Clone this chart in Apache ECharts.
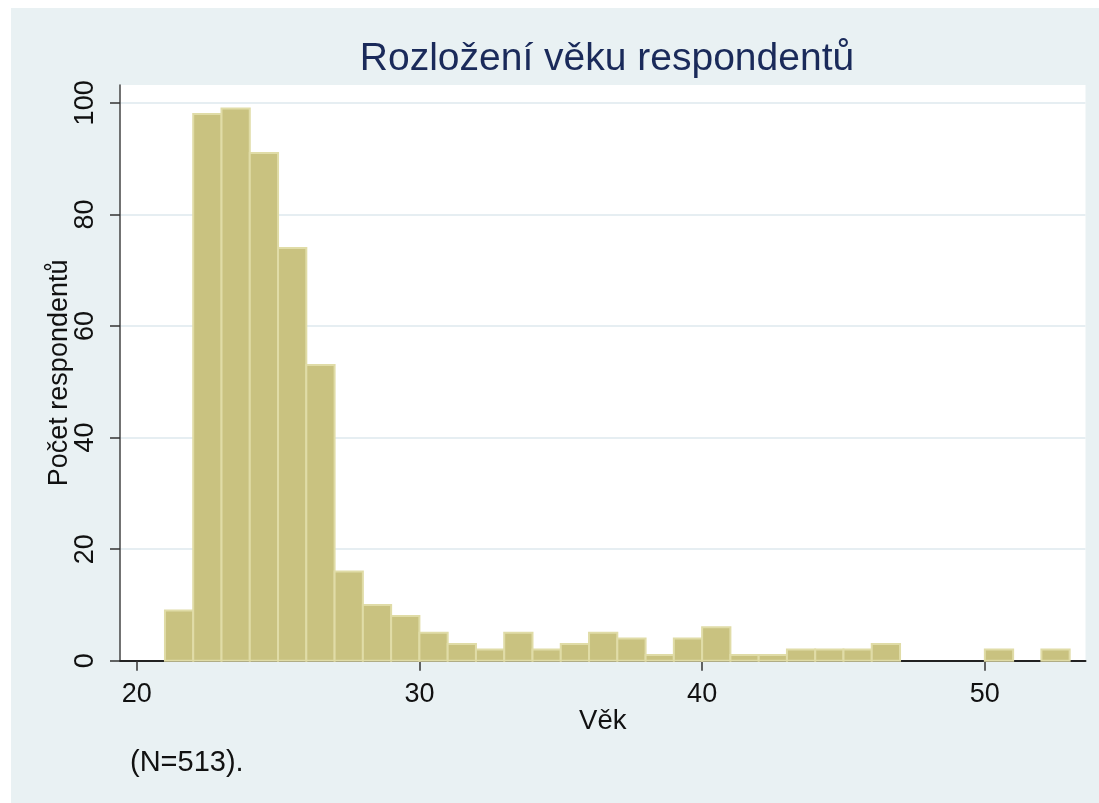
<!DOCTYPE html>
<html>
<head>
<meta charset="utf-8">
<script src="https://cdn.jsdelivr.net/npm/echarts@6/dist/echarts.min.js"></script>
<style>
  html, body { margin: 0; padding: 0; background: #fff; }
  #chart { width: 1099px; height: 803px; }
</style>
</head>
<body>
<div id="chart"></div>
<script>
// bin start (age, years) and respondent count per 1-year bin
const binStarts = [21, 22, 23, 24, 25, 26, 27, 28, 29, 30, 31, 32, 33, 34, 35, 36,
  37, 38, 39, 40, 41, 42, 43, 44, 45, 46, 47, 48, 49, 50, 51, 52]
const counts = [9, 98, 99, 91, 74, 53, 16, 10, 8, 5, 3, 2, 5, 2, 3, 5,
  4, 1, 4, 6, 1, 1, 2, 2, 2, 3, 0, 0, 0, 2, 0, 2]
const binWidth = 1

const xTicks = [20, 30, 40, 50]
const yTicks = [0, 20, 40, 60, 80, 100]

const chart = echarts.init(document.getElementById('chart'))

const fontFamily = '"Liberation Sans", Arial, sans-serif'

const option = {
  backgroundColor: '#ffffff',
  animation: false,

  graphic: [
    {
      type: 'rect',
      z: -10,
      shape: { x: 11, y: 8, width: 1088, height: 795 },
      style: { fill: '#e9f1f3' }
    }
  ],

  title: [
    {
      text: 'Rozložení věku respondentů',
      left: 602,
      textAlign: 'center',
      top: 35,
      textStyle: {
        color: '#1a2a5a',
        fontFamily,
        fontWeight: 'normal',
        fontSize: 39
      }
    },
    {
      text: '(N=513).',
      left: 125,
      top: 743,
      textStyle: {
        color: '#111',
        fontFamily,
        fontWeight: 'normal',
        fontSize: 29
      }
    }
  ],

  grid: {
    left: 120,
    right: 13.5,
    top: 85,
    bottom: 142.3,
    show: true,
    backgroundColor: '#ffffff',
    borderWidth: 0
  },

  xAxis: {
    type: 'value',
    min: 19.41,
    max: 53.56,
    name: 'Věk',
    nameLocation: 'middle',
    nameGap: 47,
    nameMoveOverlap: false,
    nameTextStyle: {
      color: '#111',
      fontFamily,
      fontSize: 27.5
    },
    axisLine: {
      onZero: false,
      lineStyle: { color: '#222', width: 2 }
    },
    axisTick: {
      show: true,
      length: 10,
      customValues: xTicks,
      lineStyle: { color: '#333', width: 1.5 }
    },
    axisLabel: {
      customValues: xTicks,
      margin: 20,
      color: '#111',
      fontFamily,
      fontSize: 27
    },
    splitLine: { show: false }
  },

  yAxis: {
    type: 'value',
    min: 0,
    max: 103.2,
    name: 'Počet respondentů',
    nameLocation: 'middle',
    nameGap: 47,
    nameMoveOverlap: false,
    nameTextStyle: {
      color: '#111',
      fontFamily,
      fontSize: 27
    },
    axisLine: {
      show: true,
      lineStyle: { color: '#444', width: 1.5 }
    },
    axisTick: {
      show: true,
      length: 10,
      customValues: yTicks,
      lineStyle: { color: '#333', width: 1.5 }
    },
    axisLabel: {
      customValues: yTicks,
      rotate: 90,
      margin: 21,
      color: '#111',
      fontFamily,
      fontSize: 27
    },
    splitLine: {
      show: true,
      lineStyle: { color: '#e6eef2', width: 2 }
    }
  },

  series: [
    {
      type: 'custom',
      data: binStarts.map((start, i) => [start, counts[i]]),
      renderItem: (params, api) => {
        const start = api.value(0)
        const count = api.value(1)
        if (!count) return null
        const topLeft = api.coord([start, count])
        const bottomRight = api.coord([start + binWidth, 0])
        return {
          type: 'rect',
          shape: {
            x: topLeft[0],
            y: topLeft[1],
            width: bottomRight[0] - topLeft[0],
            height: bottomRight[1] - topLeft[1]
          },
          style: {
            fill: '#c9c280',
            stroke: '#e0dca7',
            lineWidth: 2
          }
        }
      },
      encode: { x: 0, y: 1 }
    }
  ]
}

chart.setOption(option)
</script>
</body>
</html>
